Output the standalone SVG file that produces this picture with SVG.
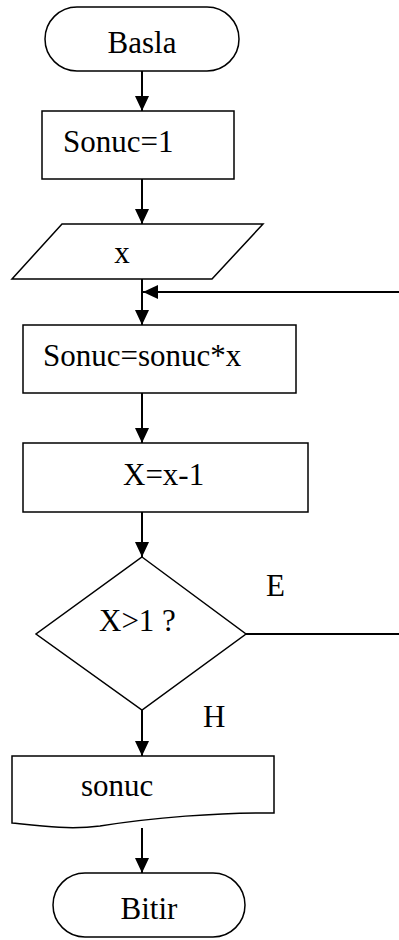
<svg xmlns="http://www.w3.org/2000/svg" width="399" height="940" viewBox="0 0 399 940">
<style>
.s{fill:#fff;stroke:#000;stroke-width:1.5}
.c{fill:none;stroke:#000;stroke-width:2}
text{font-family:"Liberation Serif","Times New Roman",serif;font-size:31px;fill:#000}
</style>
<defs>
<marker id="ah" markerUnits="userSpaceOnUse" markerWidth="16" markerHeight="16" viewBox="0 0 16 14" refX="15" refY="7" orient="auto">
<path d="M0,0 L15,7 L0,14 Z" fill="#000"/>
</marker>
</defs>
<rect width="399" height="940" fill="#fff"/>
<g id="connectors">
<line class="c" x1="142" y1="71" x2="142" y2="111" marker-end="url(#ah)"/>
<line class="c" x1="142" y1="179" x2="142" y2="224" marker-end="url(#ah)"/>
<line class="c" x1="142" y1="279" x2="142" y2="325" marker-end="url(#ah)"/>
<line class="c" x1="399" y1="292" x2="143" y2="292" marker-end="url(#ah)"/>
<line class="c" x1="142" y1="393" x2="142" y2="443" marker-end="url(#ah)"/>
<line class="c" x1="142" y1="512" x2="142" y2="557" marker-end="url(#ah)"/>
<line class="c" x1="246" y1="634" x2="399" y2="634"/>
<line class="c" x1="142" y1="710" x2="142" y2="756" marker-end="url(#ah)"/>
<line class="c" x1="142" y1="828" x2="142" y2="873" marker-end="url(#ah)"/>
<text x="266" y="596">E</text>
<text x="203" y="727">H</text>
</g>
<g id="start">
<rect class="s" x="45" y="7" width="194" height="64" rx="32" ry="32"/>
<text x="142" y="53" text-anchor="middle">Basla</text>
</g>
<g id="init">
<rect class="s" x="42" y="111" width="192" height="68"/>
<text x="63" y="152">Sonuc=1</text>
</g>
<g id="input">
<polygon class="s" points="62,224 263,224 212,279 12,279"/>
<text x="122" y="263" text-anchor="middle">x</text>
</g>
<g id="mult">
<rect class="s" x="23" y="325" width="273" height="68"/>
<text x="43" y="366">Sonuc=sonuc*x</text>
</g>
<g id="dec">
<rect class="s" x="23" y="443" width="285" height="69"/>
<text x="123" y="485">X=x-1</text>
</g>
<g id="decision">
<polygon class="s" points="142,557 246,634 142,710 36,634"/>
<text x="99" y="631">X&gt;1 ?</text>
</g>
<g id="output">
<path class="s" d="M12,756 H274 V813 C220,812 150,818 100,826 C70,830 40,826 12,823 Z"/>
<text x="81" y="796">sonuc</text>
</g>
<g id="end">
<rect class="s" x="53" y="873" width="192" height="64" rx="32" ry="32"/>
<text x="149" y="919" text-anchor="middle">Bitir</text>
</g>
</svg>
